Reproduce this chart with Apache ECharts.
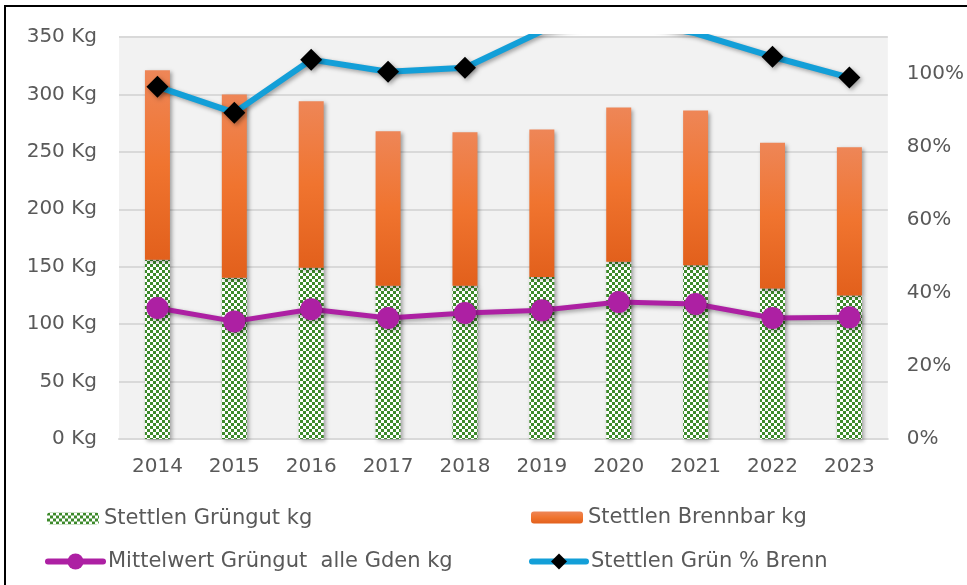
<!DOCTYPE html>
<html>
<head>
<meta charset="utf-8">
<script src="https://cdn.jsdelivr.net/npm/echarts@6/dist/echarts.min.js"></script>
<style>
  html, body { margin: 0; padding: 0; background: #fff; }
  #main { width: 967px; height: 585px; }
</style>
</head>
<body>
<div id="main"></div>
<script>
// Jahre
const years = ['2014', '2015', '2016', '2017', '2018', '2019', '2020', '2021', '2022', '2023']
// Stettlen Grüngut kg (grün kariert)
const gruengut = [156, 140.5, 149, 133.5, 133.5, 141, 154.4, 151.2, 131, 125]
// Stettlen Brennbar kg (orange, gestapelt)
const brennbar = [165, 159.5, 145, 134.5, 133.5, 128.4, 134.2, 134.8, 127, 129]
// Mittelwert Grüngut alle Gden kg
const mittelwert = [114, 102.4, 113, 105.4, 109.8, 112, 119.3, 117.6, 105.4, 105.9]
// Stettlen Grün % Brenn (rechte Achse)
const gruenProzent = [0.964, 0.893, 1.038, 1.005, 1.016, 1.116, 1.15, 1.11, 1.046, 0.989]

const names = ['Stettlen Grüngut kg', 'Stettlen Brennbar kg', 'Mittelwert Grüngut  alle Gden kg', 'Stettlen Grün % Brenn']

// karomuster fuer gruengut
const pat = document.createElement('canvas')
pat.width = 6
pat.height = 6
const ctx = pat.getContext('2d')
ctx.fillStyle = '#ffffff'
ctx.fillRect(0, 0, 6, 6)
ctx.fillStyle = '#3d8a2b'
ctx.fillRect(0, 0, 3, 3)
ctx.fillRect(3, 3, 3, 3)

const font = 'DejaVu Sans'
const txt = '#595959'
const shadow = { shadowBlur: 4, shadowOffsetX: 2, shadowOffsetY: 2, shadowColor: 'rgba(0,0,0,0.35)' }
const noShadow = { shadowBlur: 0, shadowOffsetX: 0, shadowOffsetY: 0 }
const legendText = { fontFamily: font, fontSize: 21, color: txt }

let myChart = echarts.init(document.getElementById('main'))
myChart.setOption({
  animation: false,
  textStyle: { fontFamily: font },
  graphic: [{
    type: 'rect',
    shape: { x: 5, y: 6, width: 1000, height: 1000 },
    style: { fill: 'none', stroke: '#000', lineWidth: 2 },
    silent: true
  }],
  grid: {
    left: 119, right: 78, top: 37, bottom: 146,
    show: true, backgroundColor: '#f2f2f2', borderWidth: 0
  },
  legend: [
    { data: [names[0]], left: 47, top: 508, padding: 0, itemWidth: 52, itemHeight: 12,
      itemStyle: noShadow, textStyle: legendText },
    { data: [names[1]], left: 531, top: 507, padding: 0, itemWidth: 52, itemHeight: 12,
      itemStyle: noShadow, textStyle: legendText },
    { data: [names[2]], left: 45, top: 551, padding: 0, itemWidth: 55, itemHeight: 20,
      lineStyle: Object.assign({ width: 6, cap: 'round' }, noShadow),
      itemStyle: noShadow, textStyle: legendText },
    { data: [names[3]], left: 529, top: 551, padding: 0, itemWidth: 54, itemHeight: 20,
      lineStyle: Object.assign({ width: 6, cap: 'round' }, noShadow),
      itemStyle: noShadow, textStyle: legendText }
  ],
  xAxis: {
    type: 'category',
    data: years,
    axisTick: { show: false },
    axisLine: { lineStyle: { color: '#d9d9d9', width: 2 } },
    axisLabel: { color: txt, fontSize: 20, margin: 18, fontFamily: font }
  },
  yAxis: [{
    type: 'value',
    min: 0, max: 350, interval: 50,
    axisLine: { show: false },
    axisTick: { show: false },
    splitLine: { lineStyle: { color: '#d9d9d9', width: 2 } },
    axisLabel: { color: txt, fontSize: 20, margin: 22, fontFamily: font, formatter: '{value} Kg' }
  }, {
    type: 'value',
    min: 0, max: 1.1, interval: 0.2,
    position: 'right',
    axisLine: { show: false },
    axisTick: { show: false },
    splitLine: { show: false },
    axisLabel: {
      color: txt, fontSize: 20, margin: 19, fontFamily: font, showMaxLabel: false,
      formatter: function (v) { return Math.round(v * 100) + '%' }
    }
  }],
  series: [{
    name: names[0],
    type: 'bar',
    stack: 'kg',
    barWidth: 25,
    data: gruengut,
    itemStyle: Object.assign({ color: { image: pat, repeat: 'repeat' } }, shadow)
  }, {
    name: names[1],
    type: 'bar',
    stack: 'kg',
    barWidth: 25,
    data: brennbar,
    itemStyle: Object.assign({
      color: {
        type: 'linear', x: 0, y: 0, x2: 0, y2: 1,
        colorStops: [
          { offset: 0, color: '#ee8657' },
          { offset: 0.5, color: '#f0742f' },
          { offset: 1, color: '#e2601c' }
        ]
      }
    }, shadow)
  }, {
    name: names[2],
    type: 'line',
    data: mittelwert,
    symbol: 'circle',
    symbolSize: 22,
    lineStyle: Object.assign({ color: '#ad20a3', width: 5 }, shadow),
    itemStyle: Object.assign({ color: '#ad20a3' }, shadow)
  }, {
    name: names[3],
    type: 'line',
    yAxisIndex: 1,
    data: gruenProzent,
    symbol: 'diamond',
    symbolSize: 22,
    lineStyle: Object.assign({ color: '#139fd8', width: 6 }, shadow),
    itemStyle: Object.assign({ color: '#000000' }, shadow)
  }]
})
</script>
</body>
</html>
